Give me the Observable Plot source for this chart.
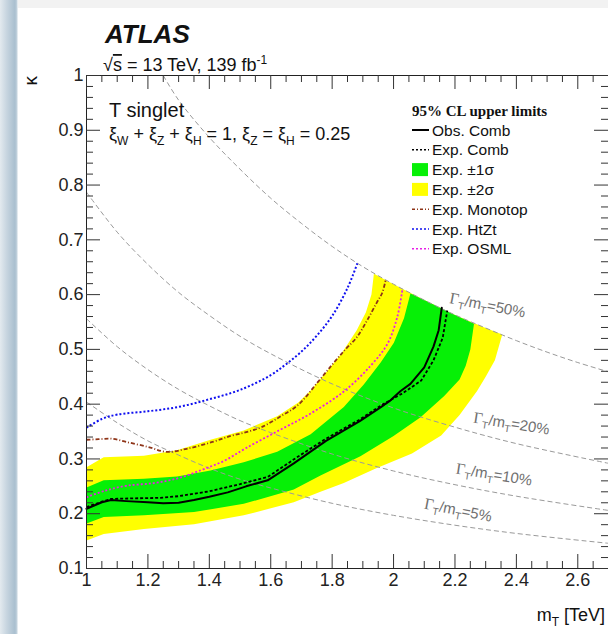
<!DOCTYPE html>
<html><head><meta charset="utf-8">
<script src="https://cdn.jsdelivr.net/npm/d3@7"></script>
<script src="https://cdn.jsdelivr.net/npm/@observablehq/plot@0.6"></script>
<style>
html,body{margin:0;padding:0;background:#fff;overflow:hidden;width:608px;height:634px}
#wrap{position:relative;width:608px;height:634px;overflow:hidden;background:#fff}
#chart{position:absolute;left:0;top:0;width:608px;height:634px}
#over{position:absolute;left:0;top:0;pointer-events:none}
.strip{position:absolute;left:0;top:0;width:18px;height:634px;background:linear-gradient(to right,#e3eaef 0px,#c6d4df 7px,#a9bfcf 15px,#c4d3de 17px,#ffffff 18px)}
.topband{position:absolute;left:0;top:0;width:608px;height:8px;background:#f2f2f2}
</style></head><body>
<div id="wrap"><div class="topband"></div><div id="chart"></div><svg id="over" width="608" height="634"></svg><div class="strip"></div></div>
<script>
// ---------- axes ----------
const xMajor = [1, 1.2, 1.4, 1.6, 1.8, 2, 2.2, 2.4, 2.6];
const yMajor = [0.1, 0.2, 0.3, 0.4, 0.5, 0.6, 0.7, 0.8, 0.9, 1];
const xMinor = [1.05,1.1,1.15,1.25,1.3,1.35,1.45,1.5,1.55,1.65,1.7,1.75,1.85,1.9,1.95,2.05,2.1,2.15,2.25,2.3,2.35,2.45,2.5,2.55,2.65,2.7];
const yMinor = [0.12,0.14,0.16,0.18,0.22,0.24,0.26,0.28,0.32,0.34,0.36,0.38,0.42,0.44,0.46,0.48,0.52,0.54,0.56,0.58,0.62,0.64,0.66,0.68,0.72,0.74,0.76,0.78,0.82,0.84,0.86,0.88,0.92,0.94,0.96,0.98];

// ---------- observed / expected limits (mT in TeV, kappa) ----------
const obsM = [1.0,1.05,1.08,1.13,1.2,1.25,1.3,1.35,1.4,1.46,1.52,1.59,1.675,1.78,1.89,1.96,1.99,2.023,2.055,2.1,2.13,2.147,2.157];
const obsK = [0.209,0.221,0.225,0.223,0.221,0.219,0.220,0.225,0.231,0.239,0.250,0.261,0.292,0.333,0.369,0.395,0.407,0.424,0.437,0.467,0.505,0.535,0.576];

const expM = [1.0,1.05,1.08,1.15,1.24,1.3,1.4,1.5,1.59,1.68,1.78,1.89,1.96,2.03,2.09,2.13,2.16,2.175];
const expK = [0.212,0.222,0.227,0.228,0.229,0.232,0.241,0.254,0.267,0.301,0.337,0.372,0.398,0.42,0.443,0.48,0.521,0.571];

const monoM = [1.0,1.04,1.08,1.13,1.2,1.26,1.33,1.41,1.47,1.52,1.57,1.63,1.69,1.75,1.8,1.84,1.88,1.914,1.945,1.963,1.974];
const monoK = [0.335,0.336,0.337,0.331,0.322,0.313,0.319,0.331,0.342,0.349,0.358,0.377,0.399,0.438,0.472,0.498,0.522,0.553,0.585,0.603,0.626];

const htztM = [1.0,1.05,1.1,1.2,1.3,1.4,1.5,1.6,1.65,1.7,1.75,1.8,1.85,1.882];
const htztK = [0.357,0.373,0.381,0.387,0.395,0.409,0.426,0.453,0.473,0.496,0.525,0.561,0.612,0.657];

const osmlM = [1.0,1.06,1.13,1.22,1.3,1.38,1.45,1.52,1.62,1.73,1.84,1.925,1.98,2.012,2.029];
const osmlK = [0.230,0.242,0.251,0.256,0.265,0.281,0.297,0.32,0.35,0.383,0.424,0.47,0.51,0.559,0.61];

// ---------- expected bands (outline: upper edge, top along 50% line, lower edge from top down) ----------
const y2UpperM = [1.0,1.056,1.187,1.295,1.404,1.512,1.621,1.69,1.73,1.78,1.83,1.88,1.91,1.928,1.936];
const y2UpperK = [0.285,0.303,0.306,0.316,0.335,0.352,0.378,0.403,0.425,0.458,0.492,0.535,0.568,0.6,0.638];
const y2TopM = [2.0,2.1,2.2,2.3];
const y2TopK = [0.619,0.590,0.563,0.539];
const y2LowerM = [2.354,2.33,2.3,2.272,2.215,2.155,2.06,1.94,1.838,1.762,1.675,1.512,1.35,1.187,1.056,1.0];
const y2LowerK = [0.527,0.48,0.45,0.424,0.38,0.343,0.31,0.282,0.256,0.240,0.221,0.197,0.181,0.172,0.163,0.151];

const g1UpperM = [1.0,1.056,1.187,1.295,1.404,1.512,1.621,1.73,1.838,1.903,1.958,2.001,2.034,2.055];
const g1UpperK = [0.248,0.261,0.264,0.268,0.279,0.294,0.313,0.345,0.395,0.436,0.476,0.512,0.557,0.602];
const g1TopM = [2.1,2.2];
const g1TopK = [0.590,0.563];
const g1LowerM = [2.262,2.25,2.235,2.215,2.165,2.088,2.0,1.892,1.762,1.675,1.512,1.35,1.187,1.056,1.0];
const g1LowerK = [0.547,0.50,0.47,0.445,0.415,0.376,0.342,0.305,0.270,0.244,0.218,0.203,0.197,0.194,0.182];

// ---------- constant width contours Gamma/m ----------
const w50M = [1.25,1.3,1.4,1.5,1.6,1.7,1.8,1.9,2.0,2.1,2.2,2.3,2.4,2.5,2.6,2.7];
const w50K = [1.0,0.955,0.887,0.829,0.776,0.730,0.688,0.651,0.619,0.590,0.563,0.539,0.516,0.495,0.476,0.459];
const wM = [1.0,1.1,1.2,1.3,1.4,1.5,1.6,1.8,2.0,2.2,2.4,2.7];
const w20K = [0.787,0.714,0.655,0.604,0.562,0.524,0.492,0.437,0.393,0.358,0.328,0.292];
const w10K = [0.556,0.505,0.463,0.427,0.397,0.370,0.348,0.309,0.278,0.253,0.232,0.206];
const w05K = [0.404,0.366,0.333,0.307,0.283,0.263,0.247,0.219,0.197,0.179,0.164,0.146];

// width labels
const wLabelPct = ["50%", "20%", "10%", "5%"];
const wLabelM = [2.306, 2.384, 2.327, 2.210];
const wLabelK = [0.580, 0.364, 0.271, 0.206];
const wLabelRot = [11, 9, 9, 11];

// ---------- build ----------
const pts = (ms, ks) => ms.map((m, i) => ({m, k: ks[i]}));
const yellowPoly = [...pts(y2UpperM, y2UpperK), ...pts(y2TopM, y2TopK), ...pts(y2LowerM, y2LowerK)];
const greenPoly = [...pts(g1UpperM, g1UpperK), ...pts(g1TopM, g1TopK), ...pts(g1LowerM, g1LowerK)];
const widthLines = [
  ...pts(w50M, w50K).map(d => ({...d, w: "50"})),
  ...pts(wM, w20K).map(d => ({...d, w: "20"})),
  ...pts(wM, w10K).map(d => ({...d, w: "10"})),
  ...pts(wM, w05K).map(d => ({...d, w: "5"}))
];
const wLabels = wLabelPct.map((p, i) => ({m: wLabelM[i], k: wLabelK[i], r: wLabelRot[i], t: "Γ/m=" + p}));

const W = 608, H = 634, mL = 86, mR = 0, mT = 75, mB = 66;
const plotW = W - mL - mR, plotH = H - mT - mB;
const MAJ = 14, MIN = 7;

const GREEN = "#06f006", YELLOW = "#ffff00";
const MONO = "#8e3418", HTZT = "#1010f0", OSML = "#e81ee8", WGRAY = "#9a9a9a";
const sans = "'Liberation Sans', Arial, Helvetica, sans-serif";
const serif = "'Liberation Serif', 'Times New Roman', serif";
const fmt = d => String(+d.toFixed(1));

const chart = Plot.plot({
  width: W, height: H,
  marginLeft: mL, marginRight: mR, marginTop: mT, marginBottom: mB,
  style: {fontSize: "18px", fontFamily: sans, color: "#222", background: "none", maxWidth: "none", overflow: "visible"},
  x: {domain: [1, 2.7], ticks: xMajor, tickFormat: fmt, tickSize: 0, tickPadding: 5, label: null},
  y: {domain: [0.1, 1], ticks: yMajor, tickFormat: fmt, tickSize: 0, tickPadding: 3, label: null},
  marks: [
    Plot.line(yellowPoly, {x: "m", y: "k", fill: YELLOW, stroke: "none", curve: "linear"}),
    Plot.line(greenPoly, {x: "m", y: "k", fill: GREEN, stroke: "none", curve: "linear"}),
    Plot.line(widthLines, {x: "m", y: "k", z: "w", stroke: WGRAY, strokeWidth: 1, strokeDasharray: "5,3", curve: "catmull-rom", strokeLinecap: "butt"}),
    Plot.line(pts(osmlM, osmlK), {x: "m", y: "k", stroke: OSML, strokeWidth: 1.8, strokeDasharray: "2,2", strokeLinecap: "butt", curve: "catmull-rom"}),
    Plot.line(pts(htztM, htztK), {x: "m", y: "k", stroke: HTZT, strokeWidth: 2, strokeDasharray: "2,2", strokeLinecap: "butt", curve: "catmull-rom"}),
    Plot.line(pts(monoM, monoK), {x: "m", y: "k", stroke: MONO, strokeWidth: 1.8, strokeDasharray: "4,2,1,2", strokeLinecap: "butt", curve: "catmull-rom"}),
    Plot.line(pts(expM, expK), {x: "m", y: "k", stroke: "#000", strokeWidth: 1.8, strokeDasharray: "3,2", strokeLinecap: "butt"}),
    Plot.line(pts(obsM, obsK), {x: "m", y: "k", stroke: "#000", strokeWidth: 2}),
    Plot.text(wLabels, {x: "m", y: "k", text: "t", rotate: "r", fontSize: 15, fill: "#707070", textAnchor: "middle"}),
    Plot.frame({stroke: "#222", strokeWidth: 1}),
    // inward ticks on all four sides
    Plot.tickX(xMajor, {x: d => d, insetTop: plotH - MAJ, stroke: "#333"}),
    Plot.tickX(xMinor, {x: d => d, insetTop: plotH - MIN, stroke: "#333"}),
    Plot.tickX(xMajor, {x: d => d, insetBottom: plotH - MAJ, stroke: "#333"}),
    Plot.tickX(xMinor, {x: d => d, insetBottom: plotH - MIN, stroke: "#333"}),
    Plot.tickY(yMajor, {y: d => d, insetRight: plotW - MAJ, stroke: "#333"}),
    Plot.tickY(yMinor, {y: d => d, insetRight: plotW - MIN, stroke: "#333"}),
    Plot.tickY(yMajor, {y: d => d, insetLeft: plotW - MAJ, stroke: "#333"}),
    Plot.tickY(yMinor, {y: d => d, insetLeft: plotW - MIN, stroke: "#333"})
  ]
});
document.getElementById("chart").appendChild(chart);

// subscripted width labels
const NS = "http://www.w3.org/2000/svg";
chart.querySelectorAll("text").forEach(el => {
  const s = el.textContent;
  if (!s.startsWith("Γ/m=")) return;
  const pct = s.slice(4);
  while (el.firstChild) el.removeChild(el.firstChild);
  const add = (txt, attrs) => {
    const ts = document.createElementNS(NS, "tspan");
    for (const k in attrs) ts.setAttribute(k, attrs[k]);
    ts.textContent = txt; el.appendChild(ts);
  };
  add("Γ", {"font-family": serif, "font-size": 16});
  add("T", {"font-size": 10, dy: 4});
  add("/m", {dy: -4});
  add("T", {"font-size": 10, dy: 4});
  add("=" + pct, {dy: -4});
});

// ---------- overlay texts ----------
const ov = d3.select("#over").attr("font-family", sans).attr("fill", "#111");
ov.append("text").attr("x", 105).attr("y", 43).attr("font-size", 26)
  .attr("font-weight", "bold").attr("font-style", "italic").text("ATLAS");
const sq = ov.append("text").attr("x", 103).attr("y", 71).attr("font-size", 18);
sq.append("tspan").text("√");
sq.append("tspan").attr("text-decoration", "overline").text("s");
sq.append("tspan").text(" = 13 TeV, 139 fb");
sq.append("tspan").attr("dy", -7).attr("font-size", 12).text("-1");

ov.append("text").attr("transform", "translate(37,76) rotate(-90)").attr("text-anchor", "end")
  .attr("font-size", 19).text("κ");

const mt = ov.append("text").attr("x", 605).attr("y", 621).attr("text-anchor", "end").attr("font-size", 18);
mt.append("tspan").text("m");
mt.append("tspan").attr("dy", 5).attr("font-size", 12).text("T");
mt.append("tspan").attr("dy", -5).text(" [TeV]");

ov.append("text").attr("x", 109).attr("y", 117).attr("font-size", 20).text("T singlet");
const fx = ov.append("text").attr("x", 109).attr("y", 140).attr("font-size", 18);
const fparts = [["ξ",0],["W",1],[" + ξ",0],["Z",1],[" + ξ",0],["H",1],[" = 1, ξ",0],["Z",1],[" = ξ",0],["H",1],[" = 0.25",0]];
let sub = false;
fparts.forEach(([t, s]) => {
  const ts = fx.append("tspan").text(t);
  if (s && !sub) { ts.attr("dy", 5).attr("font-size", 12); sub = true; }
  else if (!s && sub) { ts.attr("dy", -5); sub = false; }
  else if (s) ts.attr("font-size", 12);
});

// legend
const legLabels = ["Obs. Comb", "Exp. Comb", "Exp. ±1σ", "Exp. ±2σ", "Exp. Monotop", "Exp. HtZt", "Exp. OSML"];
const legKinds = ["line", "line", "box", "box", "line", "line", "line"];
const legColors = ["#000", "#000", GREEN, YELLOW, MONO, HTZT, OSML];
const legDash = [null, "2,2", null, null, "3,2,1,2", "2,2", "2,2"];
ov.append("text").attr("x", 412).attr("y", 116).attr("font-family", serif).attr("font-weight", "bold")
  .attr("font-size", 15).text("95% CL upper limits");
legLabels.forEach((lab, i) => {
  const cy = 130 + i * 19.8;
  if (legKinds[i] === "box") {
    ov.append("rect").attr("x", 412).attr("y", cy - 6.5).attr("width", 16).attr("height", 13).attr("fill", legColors[i]);
  } else {
    const ln = ov.append("line").attr("x1", 412).attr("x2", 429).attr("y1", cy).attr("y2", cy)
      .attr("stroke", legColors[i]).attr("stroke-width", i === 0 ? 2 : 1.5);
    if (legDash[i]) ln.attr("stroke-dasharray", legDash[i]);
  }
  ov.append("text").attr("x", 432).attr("y", cy + 5.5).attr("font-size", 15.5).text(lab);
});
</script></body></html>
